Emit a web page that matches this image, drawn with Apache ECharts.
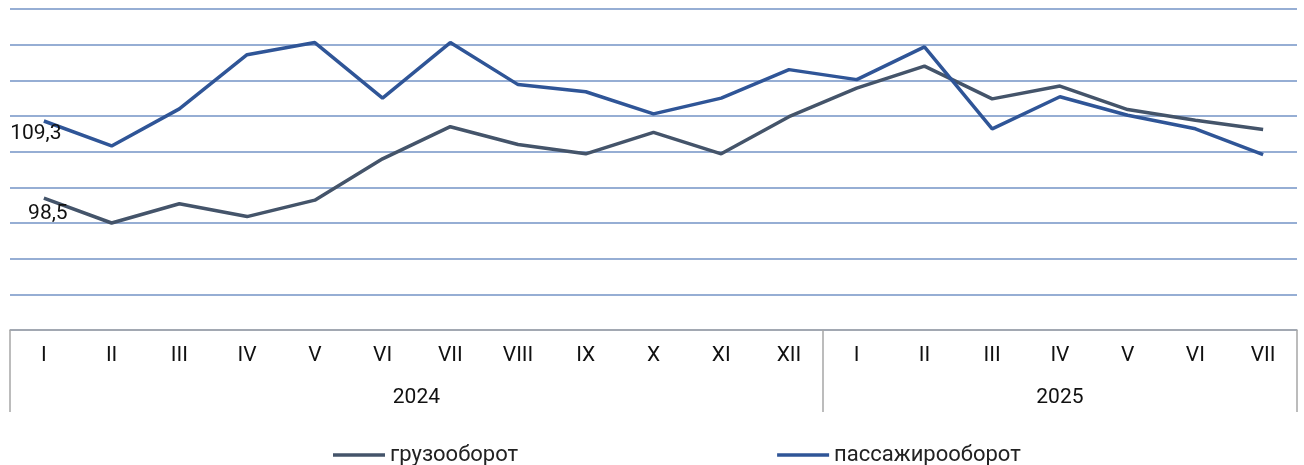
<!DOCTYPE html>
<html>
<head>
<meta charset="utf-8">
<script src="https://cdn.jsdelivr.net/npm/echarts@6/dist/echarts.min.js"></script>
<style>
  html, body { margin: 0; padding: 0; background: #fff; }
  #container { width: 1304px; height: 465px; }
</style>
</head>
<body>
<div id="container"></div>
<script>
const months = ['I', 'II', 'III', 'IV', 'V', 'VI', 'VII', 'VIII', 'IX', 'X', 'XI', 'XII',
  'I', 'II', 'III', 'IV', 'V', 'VI', 'VII'];
const years = ['2024', '2025'];
const monthsPerYear = [12, 7];

const freight = [98.5, 95.0, 97.7, 95.9, 98.2, 104.0, 108.5, 106.0, 104.7, 107.7, 104.7, 109.9,
  113.9, 117.0, 112.4, 114.2, 110.9, 109.4, 108.1];
const passenger = [109.3, 105.8, 111.0, 118.6, 120.3, 112.5, 120.3, 114.4, 113.4, 110.3, 112.5, 116.5,
  115.1, 119.7, 108.2, 112.7, 110.1, 108.2, 104.6];

const seriesNames = ['грузооборот', 'пассажирооборот'];

const font = 'Roboto';

// year boundaries and label positions on the helper value axis
const yearTicks = [0];
const yearCenters = [];
monthsPerYear.forEach(n => {
  const start = yearTicks[yearTicks.length - 1];
  yearCenters.push(start + n / 2);
  yearTicks.push(start + n);
});

// only the first point of each line carries a value label
function firstLabel(values, dist, dx) {
  return values.map((v, i) => i === 0 ? {
    value: v,
    label: {
      show: true,
      position: 'bottom',
      distance: dist,
      offset: [dx, 0],
      formatter: p => p.value.toFixed(1).replace('.', ','),
      color: '#111',
      fontFamily: font,
      fontSize: 21
    }
  } : v);
}

const chart = echarts.init(document.getElementById('container'));

chart.setOption({
  animation: false,
  grid: { left: 10, right: 7, top: 9, bottom: 135 },
  legend: {
    left: 328,
    top: 439,
    itemGap: 259,
    itemWidth: 52,
    itemHeight: 3.5,
    icon: 'rect',
    textStyle: { fontFamily: font, fontSize: 22, color: '#222' },
    data: seriesNames
  },
  xAxis: [
    {
      type: 'category',
      data: months,
      boundaryGap: true,
      axisLine: { lineStyle: { color: '#a6a6a6', width: 1.5 } },
      axisTick: { interval: 0, length: 41, lineStyle: { color: '#a6a6a6', width: 1.5 } },
      axisLabel: { interval: 0, margin: 15, fontFamily: font, fontSize: 21, color: '#111' },
      splitLine: { show: false }
    },
    {
      type: 'value',
      min: 0,
      max: yearTicks[yearTicks.length - 1],
      position: 'bottom',
      axisLine: { show: false },
      splitLine: { show: false },
      axisTick: {
        show: true,
        customValues: yearTicks,
        length: 82,
        lineStyle: { color: '#a6a6a6', width: 1.5 }
      },
      axisLabel: {
        customValues: yearCenters,
        margin: 57,
        fontFamily: font,
        fontSize: 21,
        color: '#111',
        formatter: v => years[yearCenters.indexOf(v)]
      }
    }
  ],
  yAxis: {
    type: 'value',
    min: 80,
    max: 125,
    interval: 5,
    axisLabel: { show: false },
    axisLine: { show: false },
    axisTick: { show: false },
    splitLine: { lineStyle: { color: '#7393c6', width: 1.5 } }
  },
  series: [
    {
      name: seriesNames[0],
      type: 'line',
      data: firstLabel(freight, 5, 4),
      symbol: 'circle',
      symbolSize: 0.1,
      lineStyle: { color: '#44546a', width: 3.5 },
      itemStyle: { color: '#44546a' }
    },
    {
      name: seriesNames[1],
      type: 'line',
      data: firstLabel(passenger, 2, -8),
      symbol: 'circle',
      symbolSize: 0.1,
      lineStyle: { color: '#2f5597', width: 3.5 },
      itemStyle: { color: '#2f5597' }
    }
  ]
});
</script>
</body>
</html>
